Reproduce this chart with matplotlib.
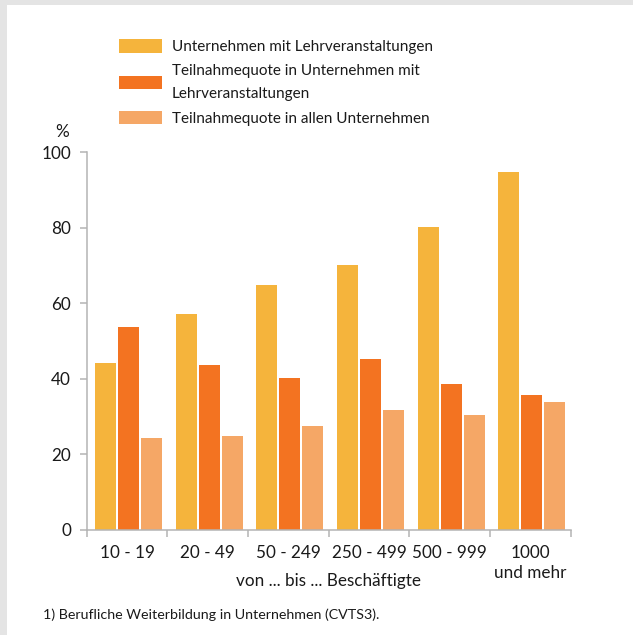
"""Weiterbildung in Unternehmen nach Beschäftigtengrößenklassen (CVTS3)."""

import matplotlib.pyplot as plt
import numpy as np
from matplotlib.patches import Rectangle

plt.rcParams["font.family"] = ["Lato", "DejaVu Sans"]

CATEGORIES = ["10 - 19", "20 - 49", "50 - 249", "250 - 499", "500 - 999", "1000\nund mehr"]
SERIES = [
    "Unternehmen mit Lehrveranstaltungen",
    "Teilnahmequote in Unternehmen mit\nLehrveranstaltungen",
    "Teilnahmequote in allen Unternehmen",
]
UNTERNEHMEN_MIT_LV = [44.2, 57.2, 64.9, 70.2, 80.2, 94.8]
QUOTE_MIT_LV = [53.7, 43.7, 40.2, 45.3, 38.7, 35.7]
QUOTE_ALLE = [24.4, 24.9, 27.5, 31.8, 30.5, 33.9]

COLORS = ["#f5b43c", "#f37321", "#f5a766"]
TEXT = "#1a1a1a"
AXIS = "#b4b4b4"
FS = 12.3


def main() -> None:
    fig = plt.figure(figsize=(6.33, 6.35), dpi=100)
    fig.patch.set_facecolor("white")
    # gray strip on top and left edge
    fig.patches.append(
        Rectangle((0, 0), 7 / 633, 1, transform=fig.transFigure,
                  facecolor="#e4e4e4", edgecolor="none", zorder=-10)
    )
    fig.patches.append(
        Rectangle((0, 1 - 5 / 635), 1, 5 / 635, transform=fig.transFigure,
                  facecolor="#e4e4e4", edgecolor="none", zorder=-10)
    )

    ax = fig.add_axes([86.7 / 633, 1 - 530 / 635, 484 / 633, 377.7 / 635])

    x = np.arange(len(CATEGORIES))
    width = 0.26
    pitch = 0.285
    shift = 0.017
    handles = []
    for i, values in enumerate([UNTERNEHMEN_MIT_LV, QUOTE_MIT_LV, QUOTE_ALLE]):
        bars = ax.bar(x + shift + (i - 1) * pitch, values, width=width,
                      color=COLORS[i], linewidth=0, label=SERIES[i])
        handles.append(bars)

    ax.set_xlim(-0.5, len(CATEGORIES) - 0.5)
    ax.set_ylim(0, 100)

    for side in ("top", "right"):
        ax.spines[side].set_visible(False)
    for side in ("left", "bottom"):
        ax.spines[side].set_color(AXIS)
        ax.spines[side].set_linewidth(1.1)

    ax.set_yticks(range(0, 101, 20))
    ax.tick_params(axis="y", length=5.3, width=1.1, color=AXIS, pad=6,
                   labelsize=FS, labelcolor=TEXT)

    ax.set_xticks(x)
    ax.set_xticklabels(CATEGORIES, linespacing=1.3)
    ax.tick_params(axis="x", which="major", length=0, pad=11,
                   labelsize=FS, labelcolor=TEXT)
    ax.set_xticks(np.arange(len(CATEGORIES) + 1) - 0.5, minor=True)
    ax.tick_params(axis="x", which="minor", length=5.3, width=1.1, color=AXIS)

    ax.set_xlabel("von ... bis ... Beschäftigte", fontsize=FS, color=TEXT)
    ax.xaxis.label.set_va("center")
    ax.xaxis.set_label_coords(0.5, (530 - 581) / 377.7)
    ax.text(61.7 / 633, 1 - 131.7 / 635, "%", transform=fig.transFigure,
            ha="center", va="center", fontsize=FS, color=TEXT)

    leg = fig.legend(handles=handles, loc="upper left",
                     bbox_to_anchor=(119 / 633, 1 - 39 / 635), frameon=False,
                     fontsize=11, labelcolor=TEXT, handlelength=2.8,
                     handleheight=1.0, handletextpad=0.65, labelspacing=0.63,
                     borderpad=0, borderaxespad=0)
    for t in leg.get_texts():
        t.set_linespacing(1.85)

    fig.text(43 / 633, 1 - 615 / 635,
             "1) Berufliche Weiterbildung in Unternehmen (CVTS3).",
             ha="left", va="center", fontsize=10.3, color=TEXT)

    fig.savefig("out.png", dpi=100)


if __name__ == "__main__":
    main()
